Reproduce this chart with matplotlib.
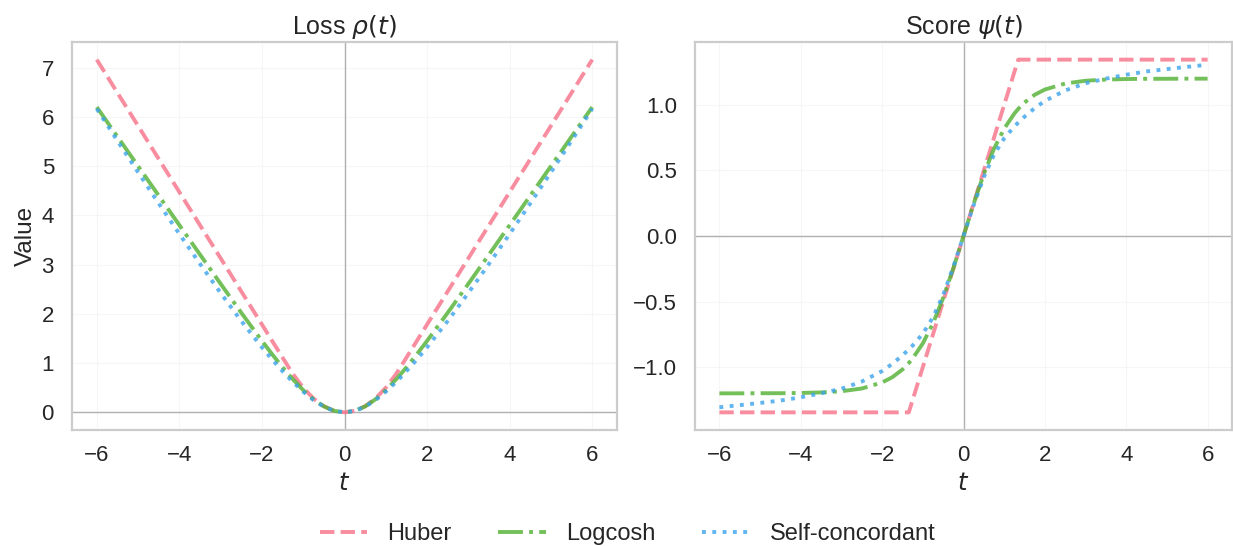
import matplotlib
matplotlib.use("Agg")
import matplotlib.pyplot as plt
from matplotlib.lines import Line2D

t = [-6, -5.5, -5, -4.5, -4, -3.5, -3, -2.5, -2, -1.75, -1.5, -1.345, -1.25, -1, -0.75, -0.5, -0.25, 0,
     0.25, 0.5, 0.75, 1, 1.25, 1.345, 1.5, 1.75, 2, 2.5, 3, 3.5, 4, 4.5, 5, 5.5, 6]

huber_rho = [7.166, 6.493, 5.821, 5.148, 4.476, 3.803, 3.131, 2.458, 1.786, 1.449, 1.113, 0.905, 0.781, 0.5,
             0.281, 0.125, 0.031, 0, 0.031, 0.125, 0.281, 0.5, 0.781, 0.905, 1.113, 1.449, 1.786, 2.458, 3.131,
             3.803, 4.476, 5.148, 5.821, 6.493, 7.166]
huber_psi = [-1.345, -1.345, -1.345, -1.345, -1.345, -1.345, -1.345, -1.345, -1.345, -1.345, -1.345, -1.345,
             -1.25, -1.0, -0.75, -0.5, -0.25, 0, 0.25, 0.5, 0.75, 1.0, 1.25, 1.345, 1.345, 1.345, 1.345, 1.345,
             1.345, 1.345, 1.345, 1.345, 1.345, 1.345, 1.345]
logcosh_rho = [6.202, 5.602, 5.002, 4.403, 3.804, 3.206, 2.612, 2.024, 1.452, 1.178, 0.915, 0.761, 0.671, 0.451,
               0.265, 0.121, 0.031, 0, 0.031, 0.121, 0.265, 0.451, 0.671, 0.761, 0.915, 1.178, 1.452, 2.024,
               2.612, 3.206, 3.804, 4.403, 5.002, 5.602, 6.202]
logcosh_psi = [-1.2, -1.2, -1.199, -1.199, -1.197, -1.193, -1.184, -1.163, -1.117, -1.077, -1.018, -0.969,
               -0.934, -0.819, -0.666, -0.473, -0.246, 0, 0.246, 0.473, 0.666, 0.819, 0.934, 0.969, 1.018,
               1.077, 1.117, 1.163, 1.184, 1.193, 1.197, 1.199, 1.199, 1.2, 1.2]
sc_rho = [6.168, 5.519, 4.878, 4.246, 3.625, 3.017, 2.426, 1.857, 1.322, 1.071, 0.836, 0.698, 0.617, 0.42,
          0.249, 0.115, 0.029, 0, 0.029, 0.115, 0.249, 0.42, 0.617, 0.698, 0.836, 1.071, 1.322, 1.857, 2.426,
          3.017, 3.625, 4.246, 4.878, 5.519, 6.168]
sc_psi = [-1.306, -1.29, -1.273, -1.255, -1.23, -1.2, -1.165, -1.11, -1.03, -0.975, -0.91, -0.865, -0.835,
          -0.745, -0.62, -0.45, -0.235, 0, 0.235, 0.45, 0.62, 0.745, 0.835, 0.865, 0.91, 0.975, 1.03, 1.11,
          1.165, 1.2, 1.23, 1.255, 1.273, 1.29, 1.306]

names = ["Huber", "Logcosh", "Self-concordant"]
colors = ["#f77189", "#50b131", "#3ba3ec"]
styles = ["--", "-.", ":"]
titles = [r"Loss $\rho(t)$", r"Score $\psi(t)$"]
yticks_loss = [0, 1, 2, 3, 4, 5, 6, 7]
yticks_score = [-1.0, -0.5, 0.0, 0.5, 1.0]
xticks = [-6, -4, -2, 0, 2, 4, 6]

plt.rcParams["font.family"] = ["Liberation Sans", "DejaVu Sans"]
plt.rcParams["mathtext.fontset"] = "dejavusans"

fig = plt.figure(figsize=(12.33, 5.46), dpi=100)
W, H = 1233, 546
ax1 = fig.add_axes([72 / W, 1 - 430 / H, (617 - 72) / W, (430 - 42) / H])
ax2 = fig.add_axes([695 / W, 1 - 430 / H, (1232 - 695) / W, (430 - 42) / H])

lw = 2.8
for ax, series, yt, title in [
    (ax1, [huber_rho, logcosh_rho, sc_rho], yticks_loss, titles[0]),
    (ax2, [huber_psi, logcosh_psi, sc_psi], yticks_score, titles[1]),
]:
    ax.axhline(0, color="#b0b0b0", lw=1.0, zorder=1)
    ax.axvline(0, color="#b0b0b0", lw=1.0, zorder=1)
    for y, c, ls in zip(series, colors, styles):
        ax.plot(t, y, color=c, ls=ls, lw=lw, alpha=0.8, zorder=3)
    ax.set_xticks(xticks)
    ax.set_xticklabels([str(v).replace("-", "\u2212") for v in xticks])
    ax.set_yticks(yt)
    if ax is ax2:
        ax.set_yticklabels([f"{v:.1f}".replace("-", "\u2212") for v in yt])
    ax.grid(True, color="#f0f0f0", lw=0.8, alpha=0.6)
    ax.set_axisbelow(True)
    for s in ax.spines.values():
        s.set_color("#cccccc")
        s.set_linewidth(1.6)
    ax.tick_params(axis="both", length=0, labelsize=16, colors="#262626")
    ax.tick_params(axis="x", pad=11)
    ax.tick_params(axis="y", pad=13)
    ax.set_xlabel(r"$t$", fontsize=17.5, color="#262626", labelpad=5)
    ax.set_title(title, fontsize=18, color="#262626", pad=6)

ax1.set_ylabel("Value", fontsize=17.5, color="#262626", labelpad=3)

handles = [Line2D([], [], color=c, ls=ls, lw=lw, alpha=0.8) for c, ls in zip(colors, styles)]
fig.legend(handles, names, loc="center", bbox_to_anchor=(0.5 + 11 / W, 1 - 534 / H), ncol=3, frameon=False,
           fontsize=17, handlelength=2.0, handletextpad=0.85, columnspacing=2.0, labelcolor="#262626")

fig.savefig("out.png", dpi=100, facecolor="white")
